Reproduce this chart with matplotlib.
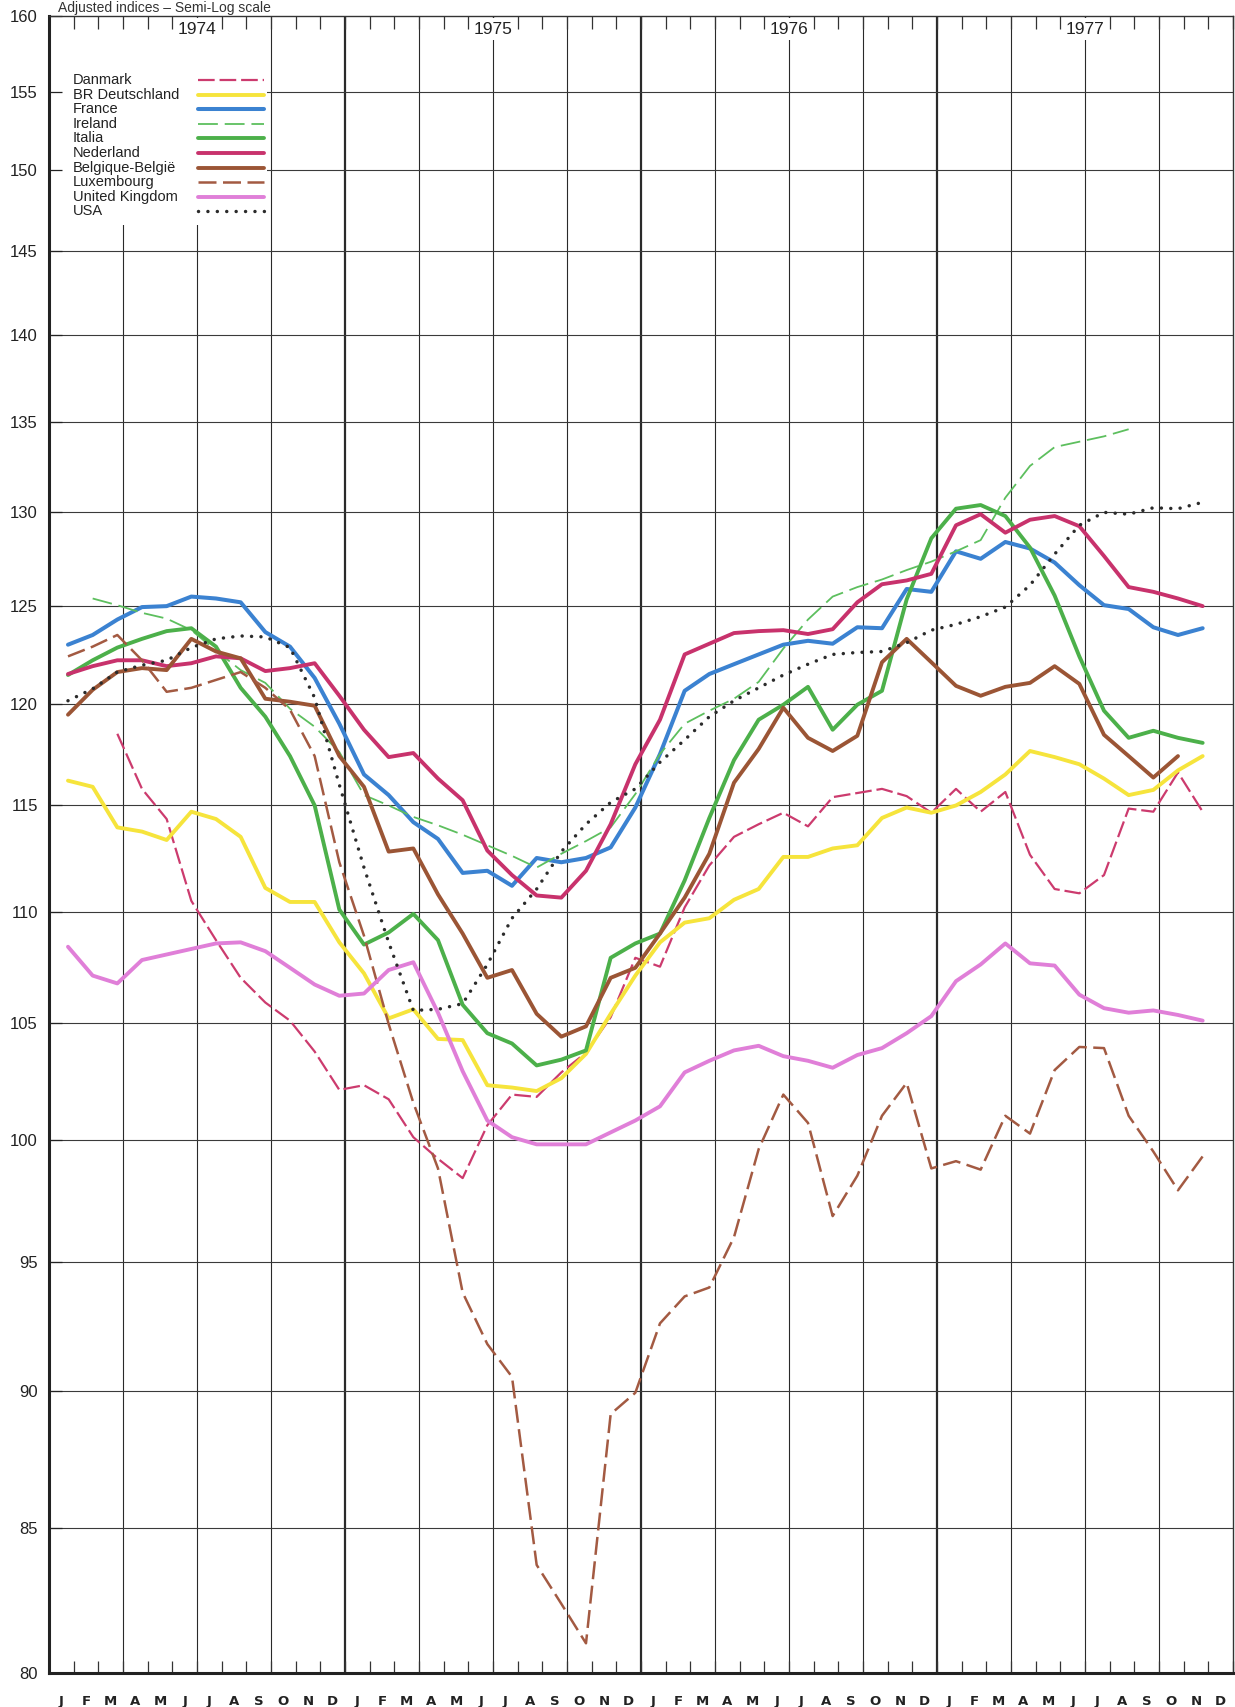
import numpy as np
import matplotlib.pyplot as plt
import matplotlib.transforms as mtransforms
from matplotlib.patches import Rectangle
from matplotlib.lines import Line2D
from matplotlib.ticker import NullLocator

plt.rcParams['font.family'] = ['Liberation Sans', 'DejaVu Sans']

nan = np.nan

# monthly indices, Jan 1974 .. Nov 1977
months = list('JFMAMJJASOND') * 4
years = ['1974', '1975', '1976', '1977']

danmark = [nan, nan, 118.5, 115.8, 114.35, 110.5, 108.7, 107.0, 105.9, 105.1, 103.75, 102.1,
           102.3, 101.7, 100.1, 99.2, 98.4, 100.6, 101.9, 101.8, 102.85, 103.7, 105.25, 107.9,
           107.5, 110.2, 112.15, 113.5, 114.1, 114.65, 114.0, 115.4, 115.6, 115.8, 115.45, 114.65,
           115.8, 114.7, 115.65, 112.65, 111.05, 110.85, 111.7, 114.85, 114.7, 116.6, 114.7]
deutschland = [116.2, 115.9, 113.95, 113.75, 113.35, 114.7, 114.35, 113.5, 111.1, 110.45, 110.45, 108.6,
               107.2, 105.2, 105.6, 104.3, 104.25, 102.3, 102.2, 102.05, 102.6, 103.65, 105.4, 107.1,
               108.6, 109.5, 109.7, 110.55, 111.05, 112.55, 112.55, 112.95, 113.1, 114.4, 114.9, 114.65,
               115.0, 115.65, 116.5, 117.65, 117.35, 117.0, 116.3, 115.5, 115.75, 116.7, 117.4]
france = [123.0, 123.5, 124.3, 124.95, 125.0, 125.5, 125.4, 125.2, 123.65, 122.9, 121.3, 119.0,
          116.5, 115.5, 114.2, 113.4, 111.8, 111.9, 111.2, 112.5, 112.3, 112.5, 113.0, 114.9,
          117.5, 120.65, 121.5, 122.0, 122.5, 123.0, 123.2, 123.05, 123.9, 123.85, 125.9, 125.75,
          127.9, 127.5, 128.4, 128.05, 127.3, 126.1, 125.05, 124.85, 123.9, 123.5, 123.85]
ireland = [nan, 125.4, 125.05, 124.65, 124.35, 123.75, 122.7, 121.7, 121.05, 119.75, 118.85, 117.6,
           115.5, 115.0, 114.45, 114.05, 113.6, 113.1, 112.6, 112.05, 112.7, 113.3, 113.95, 115.55,
           117.5, 119.0, 119.65, 120.25, 121.1, 122.8, 124.3, 125.5, 126.0, 126.4, 126.9, 127.35,
           127.9, 128.5, 130.8, 132.55, 133.6, 133.9, 134.2, 134.6, nan, nan, nan]
italia = [121.45, 122.2, 122.85, 123.3, 123.7, 123.85, 122.9, 120.8, 119.35, 117.4, 115.0, 110.1,
          108.5, 109.05, 109.9, 108.7, 105.8, 104.55, 104.1, 103.15, 103.4, 103.8, 107.9, 108.55,
          109.0, 111.45, 114.4, 117.2, 119.2, 119.95, 120.85, 118.7, 119.95, 120.65, 125.35, 128.6,
          130.2, 130.4, 129.8, 128.1, 125.55, 122.4, 119.65, 118.3, 118.65, 118.3, 118.05]
nederland = [121.5, 121.9, 122.2, 122.2, 121.9, 122.05, 122.4, 122.3, 121.65, 121.8, 122.05, 120.4,
             118.7, 117.35, 117.55, 116.3, 115.25, 112.85, 111.7, 110.75, 110.65, 111.9, 114.1, 117.0,
             119.2, 122.5, 123.05, 123.6, 123.7, 123.75, 123.55, 123.8, 125.2, 126.15, 126.35, 126.7,
             129.3, 129.9, 128.9, 129.6, 129.8, 129.25, 127.65, 126.0, 125.75, 125.4, 125.0]
belgique = [119.45, 120.7, 121.6, 121.8, 121.7, 123.3, 122.65, 122.3, 120.25, 120.1, 119.9, 117.4,
            115.9, 112.8, 112.95, 110.8, 109.0, 107.0, 107.35, 105.4, 104.4, 104.85, 107.0, 107.45,
            109.0, 110.65, 112.7, 116.1, 117.75, 119.8, 118.3, 117.65, 118.4, 122.1, 123.3, 122.1,
            120.9, 120.4, 120.85, 121.05, 121.9, 121.0, 118.45, 117.4, 116.35, 117.4, nan]
luxembourg = [122.4, 122.9, 123.5, 122.2, 120.6, 120.8, 121.2, 121.6, 120.8, 119.7, 117.4, 112.3,
              108.9, 104.95, 101.55, 98.8, 93.8, 91.8, 90.55, 83.7, 82.35, 81.0, 89.15, 89.95,
              92.6, 93.65, 94.0, 96.0, 99.6, 101.9, 100.7, 96.85, 98.5, 101.0, 102.4, 98.8,
              99.1, 98.75, 101.0, 100.25, 102.95, 103.95, 103.9, 101.0, 99.5, 97.9, 99.3]
united_kingdom = [108.4, 107.1, 106.75, 107.8, 108.05, 108.3, 108.55, 108.6, 108.2, 107.45, 106.7, 106.2,
                  106.3, 107.35, 107.7, 105.45, 102.9, 100.8, 100.1, 99.8, 99.8, 99.8, 100.3, 100.8,
                  101.4, 102.85, 103.35, 103.8, 104.0, 103.55, 103.35, 103.05, 103.6, 103.9, 104.55, 105.3,
                  106.85, 107.6, 108.55, 107.65, 107.55, 106.25, 105.65, 105.45, 105.55, 105.35, 105.1]
usa = [120.15, 120.75, 121.6, 121.95, 122.2, 122.85, 123.3, 123.45, 123.4, 122.85, 120.3, 116.0,
       112.05, 108.6, 105.55, 105.6, 105.85, 107.6, 109.7, 111.05, 112.8, 114.1, 115.15, 115.8,
       117.1, 118.2, 119.35, 120.15, 120.8, 121.45, 122.0, 122.5, 122.6, 122.65, 123.1, 123.75,
       124.05, 124.45, 124.95, 126.1, 127.75, 129.3, 130.0, 129.9, 130.25, 130.2, 130.55]

names = ['Danmark', 'BR Deutschland', 'France', 'Ireland', 'Italia', 'Nederland',
         'Belgique-België', 'Luxembourg', 'United Kingdom', 'USA']
values = [danmark, deutschland, france, ireland, italia, nederland,
          belgique, luxembourg, united_kingdom, usa]

# line styles (colour, width, dash pattern)
styles = [
    ('#cc3b6e', 1.6, (7.5, 2.2)),
    ('#f6e43c', 2.8, None),
    ('#3b82d1', 2.9, None),
    ('#5dbf5e', 1.3, (11, 3.8)),
    ('#4cb04a', 2.8, None),
    ('#c8326c', 2.8, None),
    ('#9b5535', 2.8, None),
    ('#a35a42', 1.8, (7.2, 2.6)),
    ('#e07fd8', 2.8, None),
    ('#2b2b2b', 2.5, (0.01, 2.7)),
]

fig = plt.figure(figsize=(12.35, 17.07), dpi=100)
ax = fig.add_axes([49 / 1235, 1 - 1673 / 1707, 1184 / 1235, 1657 / 1707])
ax.set_yscale('log')
ax.set_ylim(80, 160)
ax.set_xlim(0, 48)

# grid
for m in range(3, 48, 3):
    ax.axvline(m, color='#2a2a2a', lw=1.6 if m % 12 == 0 else 0.8, zorder=0.5)
for v in range(85, 160, 5):
    ax.axhline(v, color='#3a3a3a', lw=0.8, zorder=0.5)

x = np.arange(47) + 0.77
for name, vals, (col, lw, dash) in zip(names, values, styles):
    line, = ax.plot(x, vals, color=col, lw=lw, zorder=3, solid_capstyle='round',
                    solid_joinstyle='round')
    if dash is not None:
        line.set_dashes(dash)
        if name == 'USA':
            line.set_dash_capstyle('round')

# legend area (white panel covering the grid)
ax.add_patch(Rectangle((0, 146.6), 8.85, 160 - 146.6, facecolor='white',
                       edgecolor='none', zorder=1))


def yfrac(ypix):
    return 1 - (ypix - 16) / 1657


for i, (name, (col, lw, dash)) in enumerate(zip(names, styles)):
    yy = yfrac(80 + i * 14.6)
    ax.text(0.97 / 48, yy, name, transform=ax.transAxes, fontsize=10.5,
            va='center', ha='left', color='#222', zorder=4)
    ln = Line2D([6.05 / 48, 8.7 / 48], [yy, yy], transform=ax.transAxes,
                color=col, lw=lw, zorder=4, solid_capstyle='round')
    if dash is not None:
        ln.set_dashes(dash)
        if name == 'USA':
            ln.set_dash_capstyle('round')
    ax.add_line(ln)

# year labels along the top
trans = mtransforms.blended_transform_factory(ax.transData, ax.transAxes)
for yr, m in zip(years, [6, 18, 30, 42]):
    ax.text(m, yfrac(29), yr, transform=trans, ha='center', va='center',
            fontsize=12.5, color='#222', zorder=4,
            bbox=dict(facecolor='white', edgecolor='none', pad=2.5))

# axes
for side in ['left', 'bottom']:
    ax.spines[side].set_linewidth(2.2)
    ax.spines[side].set_color('#222')
for side in ['top', 'right']:
    ax.spines[side].set_linewidth(1.0)
    ax.spines[side].set_color('#333')

ax.set_yticks(list(range(80, 161, 5)))
ax.set_yticklabels([str(v) for v in range(80, 161, 5)])
ax.yaxis.set_minor_locator(NullLocator())
ax.tick_params(axis='y', direction='in', length=9, width=0.9, labelsize=12,
               pad=8, colors='#222')

ax.set_xticks(range(0, 49))
ax.set_xticklabels([])
ax.set_xticks(np.arange(48) + 0.5, minor=True)
ax.set_xticklabels(months, minor=True, fontsize=9.5, fontweight='bold',
                   family=['Liberation Sans Narrow', 'DejaVu Sans'])
ax.tick_params(axis='x', which='major', direction='in', length=9, width=0.9,
               top=True, colors='#333')
ax.tick_params(axis='x', which='minor', length=0, pad=16, colors='#222')

fig.text(58 / 1235, 1 - 12 / 1707, 'Adjusted indices \u2013 Semi-Log scale',
         fontsize=10, color='#333', va='baseline', ha='left')

fig.savefig('out.png', dpi=100, facecolor='white')
